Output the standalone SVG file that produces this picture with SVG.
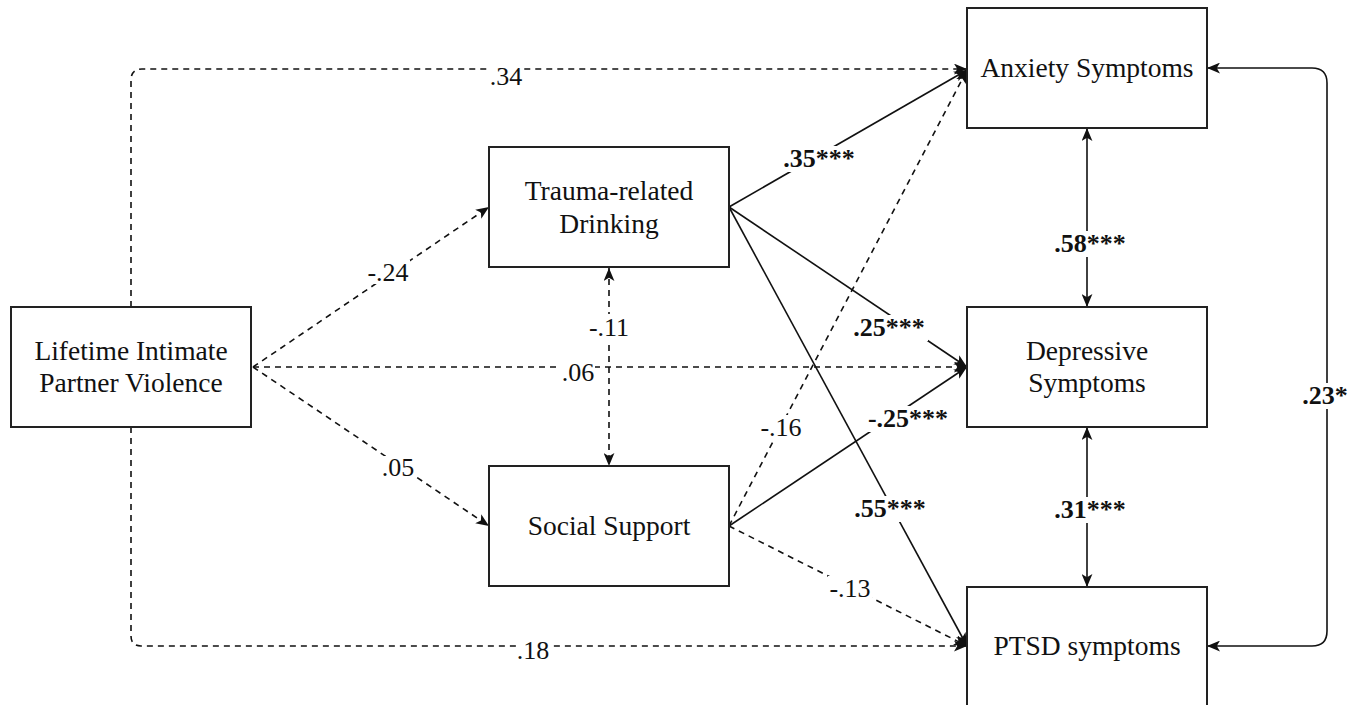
<svg xmlns="http://www.w3.org/2000/svg" width="1352" height="705" viewBox="0 0 1352 705">
<style>
.box{fill:#fff;stroke:#222;stroke-width:2}
.nt{font-family:"Liberation Serif",serif;font-size:27.5px;fill:#111;text-anchor:middle}
.lb{font-family:"Liberation Serif",serif;font-size:26px;fill:#111;text-anchor:middle}
.bd{font-weight:bold}
.c{fill:none;stroke:#111;stroke-width:1.6}
.d{stroke-dasharray:6 5}
.bg{fill:#fff}
</style>
<defs>
<marker id="ah" viewBox="0 0 12 10" refX="12" refY="5" markerWidth="13" markerHeight="11" markerUnits="userSpaceOnUse" orient="auto-start-reverse">
<path d="M0,0 L12,5 L0,10 L3,5 Z" fill="#111"/>
</marker>
</defs>
<rect width="1352" height="705" fill="#fff"/>
<g id="connectors">
<path class="c d" d="M131,307 V80 Q131,69 142,69 H967" marker-end="url(#ah)"/>
<path class="c d" d="M131,427 V636 Q131,646 141,646 H967" marker-end="url(#ah)"/>
<path class="c d" d="M253,367 L489,207" marker-end="url(#ah)"/>
<path class="c d" d="M253,367 L967,367" marker-end="url(#ah)"/>
<path class="c d" d="M253,367 L489,526" marker-end="url(#ah)"/>
<path class="c d" d="M609,268 L609,466" marker-start="url(#ah)" marker-end="url(#ah)"/>
<path class="c" d="M729,207 L967,70" marker-end="url(#ah)"/>
<path class="c" d="M729,207 L967,367" marker-end="url(#ah)"/>
<path class="c" d="M729,207 L967,646" marker-end="url(#ah)"/>
<path class="c d" d="M729,526 L967,70" marker-end="url(#ah)"/>
<path class="c" d="M729,526 L967,367" marker-end="url(#ah)"/>
<path class="c d" d="M729,526 L967,646" marker-end="url(#ah)"/>
<path class="c" d="M1087,128 L1087,307" marker-start="url(#ah)" marker-end="url(#ah)"/>
<path class="c" d="M1087,427 L1087,587" marker-start="url(#ah)" marker-end="url(#ah)"/>
<path class="c" d="M1207,68 H1312 Q1327,68 1327,83 V631 Q1327,646 1312,646 H1207" marker-start="url(#ah)" marker-end="url(#ah)"/>
</g>
<g id="labels">
<rect class="bg" x="489" y="64" width="34" height="24"/><text class="lb" x="506" y="85">.34</text>
<rect class="bg" x="516" y="639" width="34" height="22"/><text class="lb" x="533" y="659">.18</text>
<rect class="bg" x="366" y="260" width="44" height="24"/><text class="lb" x="388" y="281">-.24</text>
<rect class="bg" x="561" y="361" width="34" height="22"/><text class="lb" x="578" y="381">.06</text>
<rect class="bg" x="381" y="456" width="34" height="22"/><text class="lb" x="398" y="476">.05</text>
<rect class="bg" x="588" y="314" width="42" height="26"/><text class="lb" x="609" y="336">-.11</text>
<rect class="bg" x="780" y="146" width="78" height="26"/><text class="lb bd" x="819" y="167">.35***</text>
<rect class="bg" x="850" y="315" width="78" height="26"/><text class="lb bd" x="889" y="336">.25***</text>
<rect class="bg" x="759" y="415" width="44" height="26"/><text class="lb" x="781" y="436">-.16</text>
<rect class="bg" x="864" y="406" width="88" height="26"/><text class="lb bd" x="908" y="427">-.25***</text>
<rect class="bg" x="851" y="496" width="78" height="26"/><text class="lb bd" x="890" y="517">.55***</text>
<rect class="bg" x="828" y="576" width="44" height="26"/><text class="lb" x="850" y="597">-.13</text>
<rect class="bg" x="1051" y="231" width="78" height="26"/><text class="lb bd" x="1090" y="252">.58***</text>
<rect class="bg" x="1051" y="497" width="78" height="26"/><text class="lb bd" x="1090" y="518">.31***</text>
<rect class="bg" x="1300" y="383" width="50" height="26"/><text class="lb bd" x="1325" y="404">.23*</text>
</g>
<g id="node-ipv"><rect class="box" x="11" y="307" width="240" height="120"/><text class="nt" x="131" y="360">Lifetime Intimate</text><text class="nt" x="131" y="392">Partner Violence</text></g>
<g id="node-drinking"><rect class="box" x="489" y="147" width="240" height="120"/><text class="nt" x="609" y="200">Trauma-related</text><text class="nt" x="609" y="233">Drinking</text></g>
<g id="node-support"><rect class="box" x="489" y="466" width="240" height="120"/><text class="nt" x="609" y="535">Social Support</text></g>
<g id="node-anxiety"><rect class="box" x="967" y="8" width="240" height="120"/><text class="nt" x="1087" y="77">Anxiety Symptoms</text></g>
<g id="node-depressive"><rect class="box" x="967" y="307" width="240" height="120"/><text class="nt" x="1087" y="360">Depressive</text><text class="nt" x="1087" y="392">Symptoms</text></g>
<g id="node-ptsd"><rect class="box" x="967" y="587" width="240" height="120"/><text class="nt" x="1087" y="655">PTSD symptoms</text></g>
</svg>
